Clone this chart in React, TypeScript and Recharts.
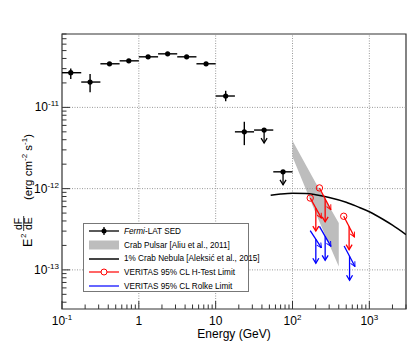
import React from "react";
import {
  ComposedChart,
  XAxis,
  YAxis,
  Scatter,
  ErrorBar,
  Line,
  Area,
  ReferenceLine,
  ReferenceArea,
  Label,
} from "recharts";

const FONT = "'Liberation Sans', Arial, Helvetica, sans-serif";
const RED = "#ff0000";
const BLUE = "#0000ff";

// Fermi-LAT SED (energy in GeV, E^2 dF/dE in erg cm^-2 s^-1)
const fermiE = [0.13, 0.232, 0.415, 0.74, 1.32, 2.37, 4.19, 7.5, 13.5, 23.6];
const fermiELo = [0.1, 0.178, 0.316, 0.562, 1, 1.78, 3.16, 5.62, 10, 17.8];
const fermiEHi = [0.178, 0.316, 0.562, 1, 1.78, 3.16, 5.62, 10, 17.8, 31.6];
const fermiF = [2.67e-11, 2.05e-11, 3.44e-11, 3.74e-11, 4.19e-11, 4.56e-11, 4.19e-11, 3.44e-11, 1.38e-11, 5.0e-12];
const fermiFLo = [2.23e-11, 1.53e-11, 3.3e-11, 3.6e-11, 4.03e-11, 4.38e-11, 4.03e-11, 3.3e-11, 1.19e-11, 3.43e-12];
const fermiFHi = [3.02e-11, 2.57e-11, 3.58e-11, 3.88e-11, 4.35e-11, 4.74e-11, 4.35e-11, 3.58e-11, 1.6e-11, 6.65e-12];

// Fermi-LAT upper limits
const fermiUlE = [42.7, 75.3];
const fermiUlELo = [31.6, 56.2];
const fermiUlEHi = [56.2, 100];
const fermiUlF = [5.26e-12, 1.61e-12];

// Crab pulsar band [Aliu et al., 2011]
const pulsarE = [100, 200, 400];
const pulsarLo = [2.47e-12, 5.0e-13, 1.1e-13];
const pulsarHi = [3.88e-12, 1.18e-12, 3.78e-13];

// 1% Crab Nebula
const nebulaE = [52, 70, 100, 150, 200, 300, 500, 700, 1000, 1500, 2000, 3000];
const nebulaF = [8.3e-13, 8.6e-13, 8.8e-13, 8.7e-13, 8.4e-13, 7.8e-13, 6.8e-13, 6.0e-13, 5.2e-13, 4.2e-13, 3.55e-13, 2.72e-13];

// VERITAS H-test limits (start / end of each segment)
const hTestE1 = [170, 224, 464];
const hTestF1 = [7.66e-13, 1.02e-12, 4.57e-13];
const hTestE2 = [238, 316, 641];
const hTestF2 = [4.33e-13, 5.5e-13, 2.54e-13];

// VERITAS Rolke limits
const rolkeE1 = [170, 224, 470];
const rolkeF1 = [3.04e-13, 3.43e-13, 1.97e-13];
const rolkeE2 = [238, 316, 650];
const rolkeF2 = [1.87e-13, 1.95e-13, 1.1e-13];

const xTicks = [
  0.1, 0.2, 0.3, 0.4, 0.5, 0.6, 0.7, 0.8, 0.9,
  1, 2, 3, 4, 5, 6, 7, 8, 9,
  10, 20, 30, 40, 50, 60, 70, 80, 90,
  100, 200, 300, 400, 500, 600, 700, 800, 900,
  1000, 2000, 3000,
];
const yTicks = [
  4e-14, 5e-14, 6e-14, 7e-14, 8e-14, 9e-14,
  1e-13, 2e-13, 3e-13, 4e-13, 5e-13, 6e-13, 7e-13, 8e-13, 9e-13,
  1e-12, 2e-12, 3e-12, 4e-12, 5e-12, 6e-12, 7e-12, 8e-12, 9e-12,
  1e-11, 2e-11, 3e-11, 4e-11, 5e-11, 6e-11, 7e-11, 8e-11,
];
const xDomain = [0.1, 3000];
const yDomain = [3.3e-14, 8e-11];

const fermiData = fermiE.map((e, i) => ({
  e,
  f: fermiF[i],
  ex: [e - fermiELo[i], fermiEHi[i] - e],
  ey: [fermiF[i] - fermiFLo[i], fermiFHi[i] - fermiF[i]],
}));
const fermiUlData = fermiUlE.map((e, i) => ({
  e,
  f: fermiUlF[i],
  ex: [e - fermiUlELo[i], fermiUlEHi[i] - e],
}));
const pulsarData = pulsarE.map((e, i) => ({ e, band: [pulsarLo[i], pulsarHi[i]] }));
const nebulaData = nebulaE.map((e, i) => ({ e, f: nebulaF[i] }));

const segs = (e1: number[], f1: number[], e2: number[], f2: number[]) =>
  e1.map((_, i) => [
    { e: e1[i], f: f1[i] },
    { e: e2[i], f: f2[i] },
  ]);
const mids = (e1: number[], f1: number[], e2: number[], f2: number[]) =>
  e1.map((_, i) => ({ e: Math.sqrt(e1[i] * e2[i]), f: Math.sqrt(f1[i] * f2[i]) }));

const hTestSegs = segs(hTestE1, hTestF1, hTestE2, hTestF2);
const rolkeSegs = segs(rolkeE1, rolkeF1, rolkeE2, rolkeF2);
const hTestMids = mids(hTestE1, hTestF1, hTestE2, hTestF2);
const rolkeMids = mids(rolkeE1, rolkeF1, rolkeE2, rolkeF2);

const isDecade = (v: number) => Math.abs(Math.log10(v) - Math.round(Math.log10(v))) < 1e-6;

function XTick(p: any) {
  const { x, y, payload } = p;
  const v = payload.value;
  const n = Math.round(Math.log10(v));
  const major = isDecade(v);
  return (
    <g>
      <line x1={x} x2={x} y1={y} y2={y - (major ? 8 : 4.5)} stroke="#333" />
      {major && (
        <text x={x} y={y + 16} textAnchor="middle" fontSize={12} fontFamily={FONT} fill="#000">
          {n === 0 ? "1" : n === 1 ? "10" : (
            <>
              10<tspan dy={-5} fontSize={8}>{n}</tspan>
            </>
          )}
        </text>
      )}
    </g>
  );
}

function YTick(p: any) {
  const { x, y, payload } = p;
  const v = payload.value;
  const n = Math.round(Math.log10(v));
  const major = isDecade(v);
  return (
    <g>
      <line x1={x} x2={x + (major ? 8 : 4.5)} y1={y} y2={y} stroke="#333" />
      {major && (
        <text x={x - 3} y={y + 4} textAnchor="end" fontSize={12} fontFamily={FONT} fill="#000">
          10<tspan dy={-5} fontSize={8}>{n}</tspan>
        </text>
      )}
    </g>
  );
}

function XLabel() {
  return (
    <text x={234} y={338} textAnchor="middle" fontSize={12} fontFamily={FONT} fill="#000">
      Energy (GeV)
    </text>
  );
}

function YLabel() {
  return (
    <g transform="translate(32,247) rotate(-90)" fontFamily={FONT} fill="#000">
      <text x={0} y={0} fontSize={12.5}>E</text>
      <text x={9} y={-6} fontSize={8}>2</text>
      <text x={17} y={-10} fontSize={10.5}>dF</text>
      <line x1={16} x2={31} y1={-8.3} y2={-8.3} stroke="#000" strokeWidth={0.8} />
      <text x={17} y={0} fontSize={10.5}>dE</text>
      <text x={47} y={0} fontSize={11.5}>
        (erg cm<tspan dy={-5} fontSize={8}>-2</tspan>
        <tspan dy={5}> s</tspan>
        <tspan dy={-5} fontSize={8}>-1</tspan>
        <tspan dy={5}>)</tspan>
      </text>
    </g>
  );
}

const arrowShape = (color: string, len: number, marker: boolean) => (p: any) => {
  const { cx, cy } = p;
  return (
    <g>
      <line x1={cx} y1={cy} x2={cx} y2={cy + len} stroke={color} strokeWidth={1.3} />
      <path
        d={`M${cx - 3},${cy + len - 5} L${cx},${cy + len} L${cx + 3},${cy + len - 5}`}
        fill="none"
        stroke={color}
        strokeWidth={1.3}
      />
      {marker && <circle cx={cx} cy={cy} r={2.6} fill={color} />}
    </g>
  );
};

const fermiDot = (p: any) => <circle cx={p.cx} cy={p.cy} r={2.6} fill="#000" />;

function LegendBox() {
  const row = (sym: React.ReactNode, text: React.ReactNode) => (
    <div style={{ display: "flex", alignItems: "center", height: 13.7 }}>
      <svg width={30} height={10} style={{ marginRight: 5, flex: "none" }}>{sym}</svg>
      <span style={{ whiteSpace: "nowrap" }}>{text}</span>
    </div>
  );
  return (
    <div
      style={{
        position: "absolute",
        left: 83,
        top: 223,
        width: 166,
        height: 69,
        boxSizing: "border-box",
        border: "1px solid #777",
        background: "#fff",
        fontFamily: FONT,
        fontSize: 8.2,
        color: "#000",
        paddingLeft: 5,
        paddingTop: 0.5,
      }}
    >
      {row(
        <>
          <line x1={0} x2={30} y1={5} y2={5} stroke="#000" strokeWidth={1.3} />
          <line x1={15} x2={15} y1={1} y2={9} stroke="#000" strokeWidth={1.3} />
          <circle cx={15} cy={5} r={2.5} fill="#000" />
        </>,
        <><i>Fermi</i>-LAT SED</>
      )}
      {row(<rect x={0} y={0.5} width={30} height={9} fill="#bdbdbd" />, "Crab Pulsar [Aliu et al., 2011]")}
      {row(<line x1={0} x2={30} y1={5} y2={5} stroke="#444" strokeWidth={2} />, "1% Crab Nebula [Aleksić et al., 2015]")}
      {row(
        <>
          <line x1={0} x2={30} y1={5} y2={5} stroke={RED} strokeWidth={1.2} />
          <circle cx={15} cy={5} r={3} fill="#fff" stroke={RED} strokeWidth={1} />
        </>,
        "VERITAS 95% CL H-Test Limit"
      )}
      {row(<line x1={0} x2={30} y1={5} y2={5} stroke={BLUE} strokeWidth={1.2} />, "VERITAS 95% CL Rolke Limit")}
    </div>
  );
}

export default function App() {
  return (
    <div style={{ position: "absolute", left: 0, top: 0, width: 415, height: 344, background: "#fff" }}>
      <svg width={0} height={0} style={{ position: "absolute" }}>
        <defs>
          <marker id="headRed" viewBox="0 0 10 10" refX={9} refY={5} markerWidth={6} markerHeight={6} markerUnits="userSpaceOnUse" orient="auto">
            <path d="M1,1 L9,5 L1,9" fill="none" stroke={RED} strokeWidth={1.6} />
          </marker>
          <marker id="headBlue" viewBox="0 0 10 10" refX={9} refY={5} markerWidth={6} markerHeight={6} markerUnits="userSpaceOnUse" orient="auto">
            <path d="M1,1 L9,5 L1,9" fill="none" stroke={BLUE} strokeWidth={1.6} />
          </marker>
        </defs>
      </svg>
      <ComposedChart width={415} height={344} margin={{ top: 34, right: 9, left: 0, bottom: 0 }}>
        <XAxis
          dataKey="e"
          type="number"
          scale="log"
          domain={xDomain}
          allowDataOverflow
          ticks={xTicks}
          interval={0}
          tick={XTick}
          tickLine={false}
          axisLine={false}
          tickSize={0}
          tickMargin={0}
          height={35}
        >
          <Label content={XLabel} />
        </XAxis>
        <YAxis
          type="number"
          scale="log"
          domain={yDomain}
          allowDataOverflow
          ticks={yTicks}
          interval={0}
          tick={YTick}
          tickLine={false}
          axisLine={false}
          tickSize={0}
          tickMargin={0}
          width={62}
        >
          <Label content={YLabel} />
        </YAxis>

        {[1, 10, 100, 1000].map((v) => (
          <ReferenceLine key={`gx${v}`} x={v} stroke="#999" strokeDasharray="1 1.5" />
        ))}
        {[1e-13, 1e-12, 1e-11].map((v) => (
          <ReferenceLine key={`gy${v}`} y={v} stroke="#999" strokeDasharray="1 1.5" />
        ))}

        <Area
          data={pulsarData}
          dataKey="band"
          type="linear"
          fill="#bdbdbd"
          fillOpacity={1}
          stroke="none"
          isAnimationActive={false}
        />
        <Line
          data={nebulaData}
          dataKey="f"
          type="monotone"
          stroke="#000"
          strokeWidth={1.5}
          dot={false}
          activeDot={false}
          isAnimationActive={false}
        />

        <Scatter data={fermiData} dataKey="f" shape={fermiDot} isAnimationActive={false}>
          <ErrorBar dataKey="ex" direction="x" width={0} stroke="#000" strokeWidth={1.4} isAnimationActive={false} />
          <ErrorBar dataKey="ey" direction="y" width={0} stroke="#000" strokeWidth={1.4} isAnimationActive={false} />
        </Scatter>
        <Scatter data={fermiUlData} dataKey="f" shape={arrowShape("#000", 13, true)} isAnimationActive={false}>
          <ErrorBar dataKey="ex" direction="x" width={0} stroke="#000" strokeWidth={1.4} isAnimationActive={false} />
        </Scatter>

        {hTestSegs.map((d, i) => (
          <Line
            key={`h${i}`}
            data={d}
            dataKey="f"
            type="linear"
            stroke={RED}
            strokeWidth={1.3}
            markerEnd="url(#headRed)"
            dot={(p: any) =>
              p.index === 0 ? (
                <circle key={p.key} cx={p.cx} cy={p.cy} r={3.2} fill="none" stroke={RED} strokeWidth={1} />
              ) : (
                <g key={p.key} />
              )
            }
            activeDot={false}
            isAnimationActive={false}
          />
        ))}
        <Scatter data={hTestMids} dataKey="f" shape={arrowShape(RED, 23, false)} isAnimationActive={false} />

        {rolkeSegs.map((d, i) => (
          <Line
            key={`r${i}`}
            data={d}
            dataKey="f"
            type="linear"
            stroke={BLUE}
            strokeWidth={1.3}
            markerEnd="url(#headBlue)"
            dot={false}
            activeDot={false}
            isAnimationActive={false}
          />
        ))}
        <Scatter data={rolkeMids} dataKey="f" shape={arrowShape(BLUE, 24, false)} isAnimationActive={false} />

        <ReferenceArea
          x1={xDomain[0]}
          x2={xDomain[1]}
          y1={yDomain[0]}
          y2={yDomain[1]}
          fill="none"
          fillOpacity={0}
          stroke="#333"
          strokeWidth={1.2}
          ifOverflow="visible"
        />
      </ComposedChart>
      <LegendBox />
    </div>
  );
}
